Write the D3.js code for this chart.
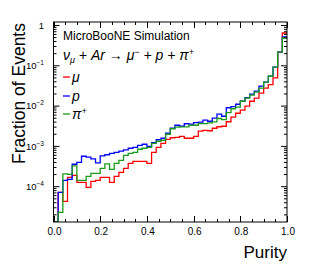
<!DOCTYPE html>
<html><head><meta charset="utf-8">
<script src="https://cdn.jsdelivr.net/npm/d3@7/dist/d3.min.js"></script>
<style>
body{margin:0;background:#fff}
text{font-family:"Liberation Sans",Arial,Helvetica,sans-serif;fill:#000}
</style></head>
<body><svg id="chart" width="313" height="272"></svg>
<script>
// ---- data ----
const binWidth = 0.02;
const binLow = d3.range(0, 50).map(i => +(i * binWidth).toFixed(2));
const muon = [0, 7.2e-5, 4.3e-5, 1.7e-4, 1.9e-4, 1.28e-4, 1.28e-4, 9.6e-5, 1.35e-4, 1.43e-4,
  1.7e-4, 1.7e-4, 1.28e-4, 1.8e-4, 2.27e-4, 2.85e-4, 3.8e-4, 4.26e-4, 4.26e-4, 4.26e-4,
  3.8e-4, 7.1e-4, 9.5e-4, 1.19e-3, 1.5e-3, 1.64e-3, 1.68e-3, 1.78e-3, 1.59e-3, 1.59e-3,
  1.78e-3, 2.38e-3, 2.51e-3, 2.44e-3, 2.82e-3, 3.07e-3, 3.16e-3, 4.09e-3, 5.3e-3, 6.65e-3,
  7.9e-3, 9.95e-3, 1.32e-2, 1.57e-2, 2.09e-2, 2.79e-2, 3.4e-2, 5.0e-2, 0.219, 0.65];
const proton = [0, 7.2e-5, 1.43e-4, 1.52e-4, 3.6e-4, 4.0e-4, 5.7e-4, 5.4e-4, 4.9e-4, 3.9e-4,
  5.8e-4, 6.2e-4, 6.7e-4, 7.1e-4, 7.6e-4, 8.2e-4, 9.0e-4, 9.5e-4, 1.06e-3, 1.13e-3,
  1.0e-3, 1.23e-3, 1.46e-3, 1.59e-3, 2.12e-3, 2.82e-3, 3.35e-3, 3.16e-3, 3.65e-3, 3.55e-3,
  3.87e-3, 3.98e-3, 4.46e-3, 4.21e-3, 5.0e-3, 6.3e-3, 5.6e-3, 9.1e-3, 9.7e-3, 1.11e-2,
  1.32e-2, 1.62e-2, 1.98e-2, 2.35e-2, 3.13e-2, 3.94e-2, 5.5e-2, 9.3e-2, 0.219, 0.518];
const pion = [0, 2.3e-5, 2.08e-4, 2.02e-4, 3.3e-4, 1.43e-4, 1.43e-4, 1.8e-4, 2.14e-4, 2.14e-4,
  2.85e-4, 3.7e-4, 2.69e-4, 3.8e-4, 4.5e-4, 6.0e-4, 6.7e-4, 7.1e-4, 8.5e-4, 9.0e-4,
  9.5e-4, 1.19e-3, 1.34e-3, 1.42e-3, 2.0e-3, 2.74e-3, 2.99e-3, 3.04e-3, 3.04e-3, 3.35e-3,
  3.35e-3, 3.69e-3, 3.69e-3, 3.82e-3, 4.05e-3, 4.92e-3, 4.64e-3, 6.85e-3, 8.6e-3, 9.4e-3,
  1.32e-2, 1.57e-2, 1.87e-2, 2.22e-2, 2.79e-2, 3.94e-2, 5.5e-2, 9.3e-2, 0.219, 0.489];
const seriesNames = ["mu", "p", "pi"];
const seriesColors = ["#ff0000", "#0000ff", "#1a9a1a"];
const xTickValues = [0, 0.2, 0.4, 0.6, 0.8, 1.0];
const xTickLabels = ["0.0", "0.2", "0.4", "0.6", "0.8", "1.0"];
const yDecades = [1, 1e-1, 1e-2, 1e-3, 1e-4];
const yDecadeExp = ["0", "−1", "−2", "−3", "−4"];

// ---- layout ----
const L = 53.5, R = 287, T = 22, B = 222;
const svg = d3.select("#chart");
const x = d3.scaleLinear().domain([0, 1]).range([L, R]);
const y = d3.scaleLog().domain([1.33e-5, 1.22]).range([B, T]).clamp(true);

svg.append("defs").append("clipPath").attr("id", "clip")
  .append("rect").attr("x", L).attr("y", T).attr("width", R - L).attr("height", B - T);

// histograms
const seriesData = [muon, proton, pion];
const line = d3.line().curve(d3.curveStepAfter)
  .x(d => x(d.e)).y(d => d.v > 0 ? y(d.v) : B);
seriesData.forEach((vals, si) => {
  const pts = binLow.map((e, i) => ({e: e, v: vals[i]}));
  pts.push({e: 1.0, v: vals[vals.length - 1]});
  svg.append("path").attr("clip-path", "url(#clip)")
    .attr("d", line(pts)).attr("fill", "none")
    .attr("stroke", seriesColors[si]).attr("stroke-width", 1.3);
});

// frame
svg.append("rect").attr("x", L).attr("y", T).attr("width", R - L).attr("height", B - T)
  .attr("fill", "none").attr("stroke", "#000").attr("stroke-width", 1);

const g = svg.append("g").attr("stroke", "#000").attr("stroke-width", 1);
// x ticks (bottom and top, inside)
d3.range(0, 21).forEach(i => {
  const v = i * 0.05;
  const major = i % 4 === 0;
  const len = major ? 6 : 3;
  const xp = Math.round(x(v)) + 0.5;
  g.append("line").attr("x1", xp).attr("x2", xp).attr("y1", B).attr("y2", B - len);
  g.append("line").attr("x1", xp).attr("x2", xp).attr("y1", T).attr("y2", T + len);
});
// y ticks (left and right, inside)
yDecades.forEach(d => {
  [1, 2, 3, 4, 5, 6, 7, 8, 9].forEach(m => {
    const v = d / 10 * m;
    if (v < y.domain()[0] || v > y.domain()[1]) return;
    const major = m === 1;
    const len = major ? 6 : 3;
    const yp = y(v);
    g.append("line").attr("x1", L).attr("x2", L + len).attr("y1", yp).attr("y2", yp);
    g.append("line").attr("x1", R).attr("x2", R - len).attr("y1", yp).attr("y2", yp);
  });
});
[1].forEach(v => {
  const yp = y(v);
  g.append("line").attr("x1", L).attr("x2", L + 6).attr("y1", yp).attr("y2", yp);
  g.append("line").attr("x1", R).attr("x2", R - 6).attr("y1", yp).attr("y2", yp);
});

// x tick labels
xTickValues.forEach((v, i) => {
  svg.append("text").attr("x", x(v) + 1).attr("y", 235).attr("text-anchor", "middle")
    .attr("font-size", 10).text(xTickLabels[i]);
});
// y tick labels
yDecades.forEach((v, i) => {
  const t = svg.append("text").attr("x", 44).attr("y", y(v) + 3.3)
    .attr("text-anchor", "end").attr("font-size", 9.5);
  if (v === 1) { t.text("1"); }
  else {
    t.append("tspan").text("10");
    t.append("tspan").attr("dy", -4).attr("font-size", 6.5).text(yDecadeExp[i]);
  }
});

// axis titles
svg.append("text").attr("x", R).attr("y", 258).attr("text-anchor", "end")
  .attr("font-size", 17).text("Purity");
svg.append("text").attr("transform", `translate(25,${T + 1}) rotate(-90)`)
  .attr("text-anchor", "end").attr("font-size", 17.5).text("Fraction of Events");

// annotations
svg.append("text").attr("x", 63).attr("y", 39.5).attr("font-size", 12).text("MicroBooNE Simulation");
const r = svg.append("text").attr("x", 63).attr("y", 60).attr("font-size", 14).attr("font-style", "italic");
r.append("tspan").text("ν");
r.append("tspan").attr("dy", 3).attr("font-size", 9).text("μ");
r.append("tspan").attr("dy", -3).text(" + Ar ");
r.append("tspan").attr("font-style", "normal").text("→");
r.append("tspan").text(" μ");
r.append("tspan").attr("dy", -5).attr("font-size", 9).text("−");
r.append("tspan").attr("dy", 5).text(" + p + π");
r.append("tspan").attr("dy", -5).attr("font-size", 9).text("+");

// legend
const legendY = [77, 96, 114];
const legendLabels = [["μ", ""], ["p", ""], ["π", "+"]];
legendLabels.forEach((lab, i) => {
  svg.append("line").attr("x1", 63).attr("x2", 70).attr("y1", legendY[i]).attr("y2", legendY[i])
    .attr("stroke", seriesColors[i]).attr("stroke-width", 1.3);
  const t = svg.append("text").attr("x", 72).attr("y", legendY[i] + 5)
    .attr("font-size", 14).attr("font-style", "italic");
  t.append("tspan").text(lab[0]);
  if (lab[1]) t.append("tspan").attr("dy", -5).attr("font-size", 9).text(lab[1]);
});
</script></body></html>
